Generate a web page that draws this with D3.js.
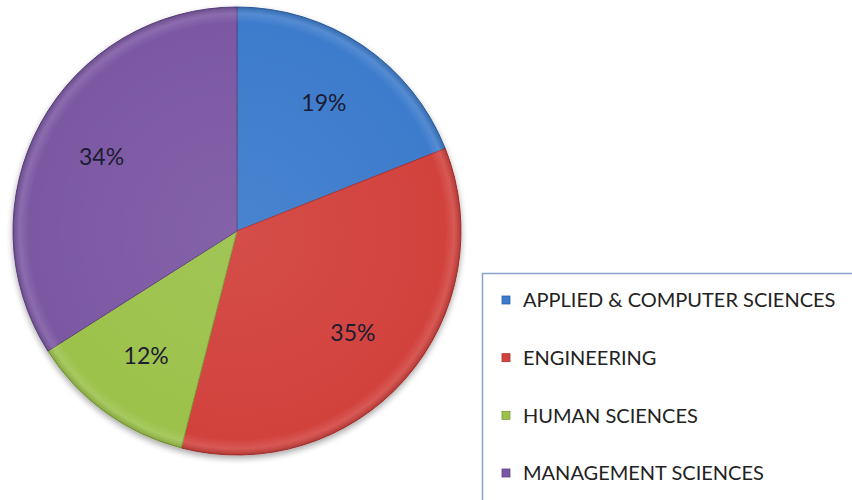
<!DOCTYPE html>
<html>
<head>
<meta charset="utf-8">
<script src="https://cdn.jsdelivr.net/npm/d3@7"></script>
<style>
  body { margin: 0; background: #fff; }
  svg { display: block; }
</style>
</head>
<body>
<div id="container"></div>
<script>
var categories = ["APPLIED & COMPUTER SCIENCES", "ENGINEERING", "HUMAN SCIENCES", "MANAGEMENT SCIENCES"];
var shares = [19, 35, 12, 34];
var labels = ["19%", "35%", "12%", "34%"];
var colors = ["#3d7ccc", "#d2423e", "#9cc24b", "#7b58a3"];
var edges = ["#2f62a6", "#a93330", "#7c9c38", "#5f4282"];

var width = 852, height = 500;
var cx = 237, cy = 231, r = 224;

var svg = d3.select("#container").append("svg")
    .attr("width", width)
    .attr("height", height);

var defs = svg.append("defs");
var shadow = defs.append("filter").attr("id", "shadow")
    .attr("x", "-10%").attr("y", "-10%").attr("width", "120%").attr("height", "120%");
shadow.append("feGaussianBlur").attr("in", "SourceAlpha").attr("stdDeviation", 3);
shadow.append("feOffset").attr("dx", 0).attr("dy", 3).attr("result", "b");
shadow.append("feComponentTransfer").append("feFuncA").attr("type", "linear").attr("slope", 0.35);
var merge = shadow.append("feMerge");
merge.append("feMergeNode");
merge.append("feMergeNode").attr("in", "SourceGraphic");

var shade = defs.append("radialGradient").attr("id", "shade")
    .attr("cx", "50%").attr("cy", "50%").attr("r", "50%");
shade.append("stop").attr("offset", "0%").attr("stop-color", "#fff").attr("stop-opacity", 0.06);
shade.append("stop").attr("offset", "93%").attr("stop-color", "#fff").attr("stop-opacity", 0);
shade.append("stop").attr("offset", "97%").attr("stop-color", "#fff").attr("stop-opacity", 0.12);
shade.append("stop").attr("offset", "100%").attr("stop-color", "#000").attr("stop-opacity", 0.15);

var pie = d3.pie().sort(null).value(function(d) { return d; });
var arcs = pie(shares);
var arc = d3.arc().innerRadius(0).outerRadius(r);
var labelArc = d3.arc().innerRadius(r * 0.69).outerRadius(r * 0.69);

var g = svg.append("g")
    .attr("transform", "translate(" + cx + "," + cy + ")");

var slices = g.append("g").attr("filter", "url(#shadow)");
slices.selectAll("path")
    .data(arcs)
    .enter().append("path")
    .attr("d", arc)
    .attr("fill", function(d, i) { return colors[i]; })
    .attr("stroke", function(d, i) { return edges[i]; })
    .attr("stroke-width", 1);

g.append("circle")
    .attr("r", r)
    .attr("fill", "url(#shade)")
    .attr("pointer-events", "none");

g.selectAll(".lbl")
    .data(arcs)
    .enter().append("text")
    .attr("class", "lbl")
    .attr("transform", function(d) { return "translate(" + labelArc.centroid(d) + ")"; })
    .attr("text-anchor", "middle")
    .attr("dy", "0.35em")
    .attr("font-family", "Lato, 'Open Sans', sans-serif")
    .attr("font-size", 23)
    .attr("fill", "#1c1c33")
    .text(function(d, i) { return labels[i]; });

// legend
var legend = svg.append("g");
legend.append("rect")
    .attr("x", 482.5).attr("y", 273.5)
    .attr("width", 380).attr("height", 240)
    .attr("fill", "#fff")
    .attr("stroke", "#87a3c9")
    .attr("stroke-width", 1.5);

var ly = d3.scalePoint().domain(categories).range([300, 473]);

var items = legend.selectAll(".item")
    .data(categories)
    .enter().append("g")
    .attr("class", "item")
    .attr("transform", function(d) { return "translate(502," + ly(d) + ")"; });

items.append("rect")
    .attr("x", 0).attr("y", -4)
    .attr("width", 8).attr("height", 8)
    .attr("fill", function(d, i) { return colors[i]; })
    .attr("stroke", function(d, i) { return edges[i]; })
    .attr("stroke-width", 0.8);

items.append("text")
    .attr("x", 21)
    .attr("dy", "0.36em")
    .attr("font-family", "Lato, 'Open Sans', sans-serif")
    .attr("font-size", 20)
    .attr("fill", "#222")
    .text(function(d) { return d; });
</script>
</body>
</html>
